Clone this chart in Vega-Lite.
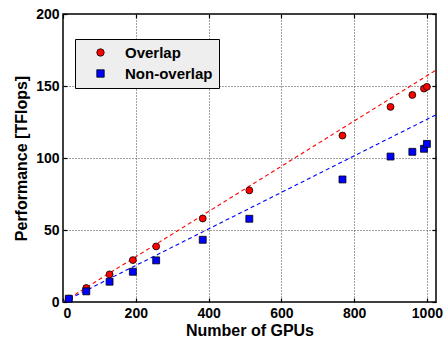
{
  "$schema": "https://vega.github.io/schema/vega-lite/v6.json",
  "width": 373,
  "height": 288,
  "autosize": "none",
  "padding": {"left": 63, "top": 14, "right": 9, "bottom": 36},
  "background": "white",
  "config": {
    "view": {"stroke": "black", "strokeWidth": 1.5},
    "font": "Liberation Sans",
    "axis": {
      "labelFont": "Liberation Sans",
      "labelFontWeight": "bold",
      "labelFontSize": 14,
      "labelColor": "black",
      "titleFont": "Liberation Sans",
      "titleFontSize": 16,
      "titleFontWeight": "bold",
      "titleColor": "black",
      "domain": false,
      "tickColor": "black",
      "tickSize": -4,
      "tickWidth": 1.2,
      "gridColor": "#444444",
      "gridDash": [1, 2],
      "gridOpacity": 1,
      "gridWidth": 1
    }
  },
  "datasets": {
    "perf": [
      {"gpus": 16, "tflops": 2.3, "series": "Overlap"},
      {"gpus": 64, "tflops": 9.7, "series": "Overlap"},
      {"gpus": 128, "tflops": 19.2, "series": "Overlap"},
      {"gpus": 192, "tflops": 29.1, "series": "Overlap"},
      {"gpus": 256, "tflops": 38.6, "series": "Overlap"},
      {"gpus": 384, "tflops": 58, "series": "Overlap"},
      {"gpus": 512, "tflops": 77.5, "series": "Overlap"},
      {"gpus": 768, "tflops": 115.6, "series": "Overlap"},
      {"gpus": 900, "tflops": 135.5, "series": "Overlap"},
      {"gpus": 960, "tflops": 143.8, "series": "Overlap"},
      {"gpus": 992, "tflops": 148.2, "series": "Overlap"},
      {"gpus": 1000, "tflops": 149.4, "series": "Overlap"},
      {"gpus": 16, "tflops": 2.3, "series": "Non-overlap"},
      {"gpus": 64, "tflops": 7.4, "series": "Non-overlap"},
      {"gpus": 128, "tflops": 14.1, "series": "Non-overlap"},
      {"gpus": 192, "tflops": 21, "series": "Non-overlap"},
      {"gpus": 256, "tflops": 28.9, "series": "Non-overlap"},
      {"gpus": 384, "tflops": 43.2, "series": "Non-overlap"},
      {"gpus": 512, "tflops": 57.8, "series": "Non-overlap"},
      {"gpus": 768, "tflops": 85.1, "series": "Non-overlap"},
      {"gpus": 900, "tflops": 101, "series": "Non-overlap"},
      {"gpus": 960, "tflops": 104.3, "series": "Non-overlap"},
      {"gpus": 992, "tflops": 106.4, "series": "Non-overlap"},
      {"gpus": 1000, "tflops": 109.8, "series": "Non-overlap"}
    ],
    "fits": [
      {"gpus": 0, "tflops": 0, "series": "Overlap"},
      {"gpus": 1025, "tflops": 161, "series": "Overlap"},
      {"gpus": 0, "tflops": 0, "series": "Non-overlap"},
      {"gpus": 1025, "tflops": 130, "series": "Non-overlap"}
    ]
  },
  "layer": [
    {
      "data": {"name": "fits"},
      "mark": {"type": "line", "strokeDash": [4, 3], "strokeWidth": 1.1, "clip": true},
      "encoding": {
        "x": {"field": "gpus", "type": "quantitative", "scale": {"domain": [0, 1025], "nice": false},
              "axis": {"orient": "top", "labels": false, "title": null, "grid": false, "values": [0, 200, 400, 600, 800, 1000]}},
        "y": {"field": "tflops", "type": "quantitative", "scale": {"domain": [0, 200], "nice": false},
              "axis": {"orient": "right", "labels": false, "title": null, "grid": false, "values": [0, 50, 100, 150, 200]}},
        "stroke": {"field": "series", "type": "nominal",
                  "scale": {"domain": ["Overlap", "Non-overlap"], "range": ["#ff0000", "#0000ff"]}, "legend": null},
        "detail": {"field": "series"}
      }
    },
    {
      "data": {"name": "perf"},
      "mark": {"type": "point", "filled": true, "stroke": "black", "strokeWidth": 0.8, "opacity": 1, "size": 48},
      "encoding": {
        "x": {"field": "gpus", "type": "quantitative", "scale": {"domain": [0, 1025], "nice": false},
              "axis": {"orient": "bottom", "title": "Number of GPUs", "grid": true, "format": "d", "values": [0, 200, 400, 600, 800, 1000], "labelPadding": 8, "titlePadding": 2}},
        "y": {"field": "tflops", "type": "quantitative", "scale": {"domain": [0, 200], "nice": false},
              "axis": {"orient": "left", "title": "Performance [TFlops]", "grid": true, "values": [0, 50, 100, 150, 200], "labelPadding": 8, "titlePadding": 6}},
        "fill": {"field": "series", "type": "nominal",
                 "scale": {"domain": ["Overlap", "Non-overlap"], "range": ["#ff0000", "#0000ff"]},
                 "legend": {
                   "orient": "none", "legendX": 12, "legendY": 25, "title": null,
                   "fillColor": "#eeeeee", "strokeColor": "black", "padding": 6,
                   "labelFont": "Liberation Sans", "labelFontSize": 15, "labelFontWeight": "bold", "labelColor": "black",
                   "symbolSize": 55, "symbolStrokeColor": "black", "symbolStrokeWidth": 0.8,
                   "rowPadding": 5, "symbolOffset": 12, "labelOffset": 17
                 }},
        "shape": {"field": "series", "type": "nominal",
                  "scale": {"domain": ["Overlap", "Non-overlap"], "range": ["circle", "square"]}}
      }
    }
  ],
  "resolve": {"axis": {"x": "independent", "y": "independent"}, "scale": {"stroke": "independent"}}
}
